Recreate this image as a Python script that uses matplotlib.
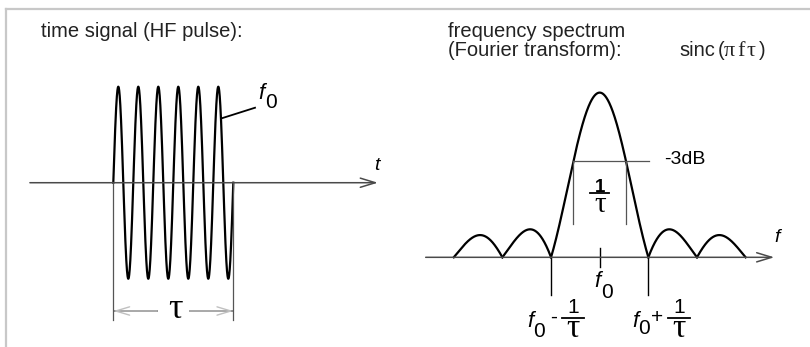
import numpy as np
import matplotlib
matplotlib.use("Agg")
import matplotlib.pyplot as plt
from matplotlib.lines import Line2D

#%% data

# time signal: HF pulse of n cycles, unit amplitude
pulse_cycles = 6
pulse_amp = 1.0

# spectrum: lobe borders in units of 1/tau around f0, and the lobe heights
lobe_edges = [-3, -2, -1, 1, 2, 3]
lobe_peaks = [0.135, 0.17, 1.0, 0.17, 0.135]
db3_level = 0.583

sans = "Liberation Sans"
serif = "Liberation Serif"
axis_col = "#4a4a4a"
thin_col = "#555555"
txt_col = "#222222"

#%% figure, two panels drawn in their own units

fig = plt.figure(figsize=(8.1, 3.47), dpi=100)
fig.patch.set_facecolor("white")

ax_t = fig.add_axes([0, 0, 0.5, 1])
ax_t.set_xlim(-5.665, 14.585)
ax_t.set_ylim(-1.711, 1.903)
ax_t.axis("off")

ax_f = fig.add_axes([0.5, 0, 0.5, 1])
ax_f.set_xlim(-4.002, 4.323)
ax_f.set_ylim(-0.5446, 1.5623)
ax_f.axis("off")

# grey frame on top and left
fig.add_artist(Line2D([5.5 / 810, 1], [1 - 9 / 347, 1 - 9 / 347], color="#c8c8c8", lw=1.6,
                      transform=fig.transFigure))
fig.add_artist(Line2D([5.5 / 810, 5.5 / 810], [0, 1 - 9 / 347], color="#c8c8c8", lw=1.6,
                      transform=fig.transFigure))

#%% time signal

t = np.linspace(0, pulse_cycles, 3000)
ax_t.plot(t, pulse_amp * np.sin(2 * np.pi * t), color="black", lw=1.6)

arrow = dict(arrowstyle="->,head_length=1.08,head_width=0.33", color=axis_col, lw=1.1,
             shrinkA=0, shrinkB=0, mutation_scale=10)
ax_t.annotate("", xy=(13.23, 0), xytext=(-4.17, 0), arrowprops=arrow)
ax_t.text(13.17, 0.184, "t", family=sans, style="italic", fontsize=14, ha="center", va="center")

# f0 marker
ax_t.plot([5.42, 7.085], [0.671, 0.781], color="black", lw=1.3)
ax_t.text(7.42, 0.872, "f", family=sans, style="italic", fontsize=16, ha="center", va="baseline")
ax_t.text(7.87, 0.783, "0", family=sans, fontsize=15, ha="center", va="baseline")

# tau bracket
for x in (0, pulse_cycles):
    ax_t.plot([x, x], [0.01, -1.43], color=thin_col, lw=0.9)
gap = 0.82
mid = pulse_cycles / 2
light = dict(arrowstyle="->,head_length=1.0,head_width=0.3", color="#c0c0c0", lw=1.0,
             shrinkA=0, shrinkB=0, mutation_scale=10)
ax_t.annotate("", xy=(0, -1.336), xytext=(mid - gap, -1.336), arrowprops=light)
ax_t.annotate("", xy=(pulse_cycles, -1.336), xytext=(mid + gap, -1.336), arrowprops=light)
ax_t.plot([0.08, mid - gap], [-1.336, -1.336], color="#606060", lw=1.2)
ax_t.plot([mid + gap, pulse_cycles - 0.08], [-1.336, -1.336], color="#606060", lw=1.2)
ax_t.text(mid + 0.1, -1.32, "τ", family=serif, fontsize=26, ha="center", va="center")

#%% spectrum

for i, h in enumerate(lobe_peaks):
    u = np.linspace(lobe_edges[i], lobe_edges[i + 1], 400)
    s = np.abs(np.sinc(u))
    ax_f.plot(u, h * s / s.max(), color="black", lw=1.6)

ax_f.annotate("", xy=(3.589, 0), xytext=(-3.577, 0), arrowprops=arrow)
ax_f.text(3.64, 0.123, "f", family=sans, style="italic", fontsize=14, ha="center", va="center")

# -3dB width
u_half = np.linspace(0, 1, 1000)
u3 = np.interp(db3_level, np.sinc(u_half)[::-1], u_half[::-1])
ax_f.plot([-u3, 1.02], [db3_level, db3_level], color=thin_col, lw=0.9)
for x in (-u3, u3):
    ax_f.plot([x, x], [db3_level, 0.202], color=thin_col, lw=0.9)
ax_f.text(1.328, 0.595, "-3dB", family=sans, fontsize=14, ha="left", va="center")


def frac(ax, x, y_num, y_bar, y_den, half, size_num, size_den, weight="normal"):
    # 1 over tau, numerator and denominator sit on their baselines
    ax.text(x, y_num, "1", family=sans, fontsize=size_num, fontweight=weight,
            ha="center", va="baseline")
    ax.plot([x - half, x + half], [y_bar, y_bar], color="black", lw=1.3)
    ax.text(x, y_den, "τ", family=serif, fontsize=size_den, ha="center", va="baseline")


frac(ax_f, 0.006, 0.398, 0.389, 0.277, 0.195, 13.5, 21, weight="bold")

# f0 tick
ax_f.plot([0.006, 0.006], [0.055, -0.057], color="black", lw=1.0)
ax_f.text(-0.05, -0.182, "f", family=sans, style="italic", fontsize=16, ha="center", va="baseline")
ax_f.text(0.156, -0.249, "0", family=sans, fontsize=15, ha="center", va="baseline")

# first zeros
for x in (-1, 1):
    ax_f.plot([x, x], [0, -0.229], color="black", lw=1.0)

ax_f.text(-1.433, -0.421, "f", family=sans, style="italic", fontsize=16, ha="center", va="baseline")
ax_f.text(-1.242, -0.482, "0", family=sans, fontsize=15, ha="center", va="baseline")
ax_f.text(-0.954, -0.364, "-", family=sans, fontsize=15, ha="center", va="center")
frac(ax_f, -0.543, -0.338, -0.370, -0.482, 0.226, 15, 24)

ax_f.text(0.726, -0.421, "f", family=sans, style="italic", fontsize=16, ha="center", va="baseline")
ax_f.text(0.917, -0.467, "0", family=sans, fontsize=15, ha="center", va="baseline")
ax_f.text(1.172, -0.364, "+", family=sans, fontsize=15, ha="center", va="center")
frac(ax_f, 1.636, -0.338, -0.370, -0.482, 0.226, 15, 24)

#%% titles

fs = 14.5
fig.text(40.7 / 810, 1 - 37.3 / 347, "time signal (HF pulse):", family=sans, fontsize=fs,
         ha="left", va="baseline", color=txt_col)
fig.text(448.3 / 810, 1 - 37.3 / 347, "frequency spectrum", family=sans, fontsize=fs,
         ha="left", va="baseline", color=txt_col)
fig.text(448.3 / 810, 1 - 56 / 347, "(Fourier transform):", family=sans, fontsize=fs,
         ha="left", va="baseline", color=txt_col)

# sinc (pi f tau), greek in a serif face
sinc_parts = [("sinc", 679, sans, fs), ("(", 718, sans, fs), ("π", 724, serif, 16),
              ("f", 737, serif, 16), ("τ", 746, serif, 16), (")", 759, sans, fs)]
for s, x, fam, size in sinc_parts:
    fig.text(x / 810, 1 - 56 / 347, s, family=fam, fontsize=size,
             ha="left", va="baseline", color=txt_col)

fig.savefig("out.png", dpi=100)
